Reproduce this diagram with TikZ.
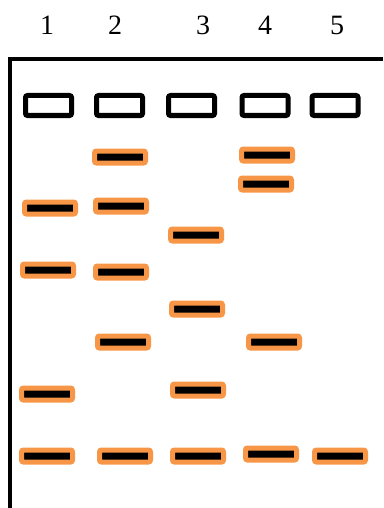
\documentclass[tikz,border=0pt]{standalone}
\usepackage{fontspec}
\setmainfont{Liberation Serif}
\usepackage{tikz}
\usetikzlibrary{positioning}
\definecolor{bandorange}{HTML}{F79646}

\begin{document}
\begin{tikzpicture}[x=1pt, y=-1pt,
    well/.style={draw=black, line width=5pt, rounded corners=2pt, minimum width=46pt, minimum height=20pt, inner sep=0pt},
    band/.style={draw=bandorange, fill=black, line width=5pt, rounded corners=2pt, minimum width=51pt, minimum height=12pt, inner sep=0pt},
    lanelabel/.style={font=\fontsize{28}{30}\selectfont, inner sep=0pt}]
    \useasboundingbox (0,0) rectangle (383,508);

    % ── Lane numbers ─────────────────────────────────────────────────
    \foreach \i/\x in {1/47, 2/115, 3/203, 4/265, 5/337}{
        \node[lanelabel] (lbl\i) at (\x, 25) {\i};
    }

    % ── Gel frame ────────────────────────────────────────────────────
    \draw[line width=4pt] (9.5, 508) |- (383, 59);

    % Wells
    \foreach \i/\x in {1/48.5, 2/119.5, 3/191.5, 4/265, 5/335}{
        \node[well] (well\i) at (\x, 105.5) {};
    }

    % ── Lane 1 ───────────────────────────────────────────────────────
    \node[band] (b1a) at (50, 208) {};
    \node[band] (b1b) at (48, 270) {};
    \node[band] (b1c) at (47, 394) {};
    \node[band] (b1d) at (47, 456) {};

    % ── Lane 2 ───────────────────────────────────────────────────────
    \node[band] (b2a) at (120, 157) {};
    \node[band] (b2b) at (121, 206) {};
    \node[band] (b2c) at (121, 272) {};
    \node[band] (b2d) at (123, 342) {};
    \node[band] (b2e) at (125, 456) {};

    % ── Lane 3 ───────────────────────────────────────────────────────
    \node[band] (b3a) at (196, 235) {};
    \node[band] (b3b) at (197, 309) {};
    \node[band] (b3c) at (198, 390) {};
    \node[band] (b3d) at (198, 456) {};

    % ── Lane 4 ───────────────────────────────────────────────────────
    \node[band] (b4a) at (267, 155) {};
    \node[band] (b4b) at (266, 184) {};
    \node[band] (b4c) at (274, 342) {};
    \node[band] (b4d) at (271, 454) {};

    % ── Lane 5 ───────────────────────────────────────────────────────
    \node[band] (b5a) at (340, 456) {};
\end{tikzpicture}
\end{document}
